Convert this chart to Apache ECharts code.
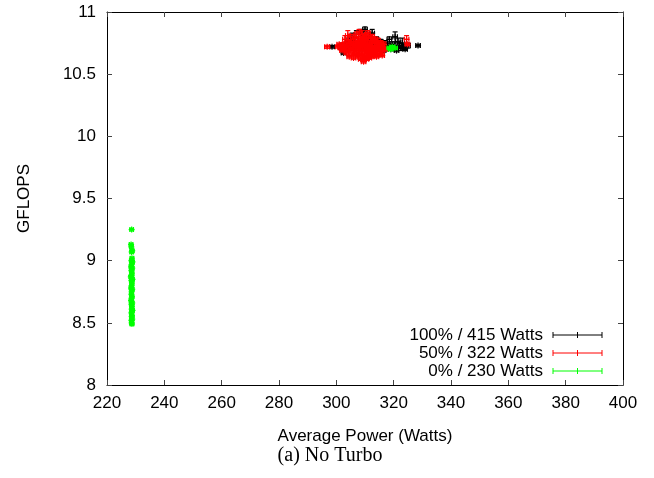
<!DOCTYPE html>
<html>
<head>
<meta charset="utf-8">
<script src="https://cdn.jsdelivr.net/npm/echarts@6/dist/echarts.min.js"></script>
<style>html,body{margin:0;padding:0;background:#fff}#c{width:654px;height:478px}</style>
</head>
<body>
<div id="c"></div>
<script>
// [power, gflops, powerErr, gflopsErr]
const blackPoints = [
[298.5,10.72,0.8,0.01],[302,10.73,0.8,0.02],[302.5,10.67,0.8,0.01],[303.5,10.70,0.8,0.01],[304,10.76,0.8,0.03],[305,10.74,0.8,0.02],
[305.5,10.80,0.8,0.03],[306,10.71,0.8,0.01],[306.5,10.77,0.8,0.02],[307,10.82,0.8,0.03],[307.5,10.73,0.8,0.02],
[308,10.75,0.8,0.02],[308.5,10.84,0.8,0.02],[309,10.70,0.8,0.01],[309.5,10.78,0.8,0.03],[310,10.86,0.8,0.02],
[310.5,10.74,0.8,0.02],[311,10.72,0.8,0.01],[311.5,10.80,0.8,0.03],[312,10.76,0.8,0.02],[312.5,10.83,0.8,0.03],
[313,10.71,0.8,0.01],[313.5,10.74,0.8,0.02],[314,10.78,0.8,0.02],[314.5,10.70,0.8,0.01],[315,10.73,0.8,0.02],
[315.5,10.76,0.8,0.02],[316,10.72,0.8,0.01],[316.5,10.69,0.8,0.01],[317,10.75,0.8,0.02],[317.5,10.71,0.8,0.02],
[318,10.73,0.8,0.02],[318.5,10.78,0.8,0.02],[319,10.70,0.8,0.01],[319.5,10.74,0.8,0.02],[320,10.72,0.8,0.01],
[320.5,10.80,0.8,0.04],[321,10.69,0.8,0.01],[321.5,10.76,0.8,0.03],[322,10.73,0.8,0.02],[322.5,10.71,0.8,0.02],
[323,10.75,0.8,0.04],[323.5,10.72,0.8,0.02],[324,10.70,0.8,0.01],[325,10.73,0.8,0.02],[328.5,10.73,0.8,0.01]
];
const redPoints = [
[296.8,10.72,0.9,0.012],[300.5,10.72,0.8,0.01],[301,10.74,0.8,0.01],[301.5,10.71,0.8,0.01],[302,10.73,0.8,0.02],
[302,10.69,0.8,0.01],[302.5,10.70,0.8,0.01],[303,10.74,0.8,0.02],[303,10.78,0.8,0.03],[303.5,10.72,0.8,0.01],
[303.5,10.67,0.8,0.01],[304,10.81,0.8,0.04],[304,10.69,0.8,0.01],[304.5,10.75,0.8,0.02],[304.5,10.64,0.8,0.01],
[305,10.71,0.8,0.01],[305,10.80,0.8,0.02],[305,10.76,0.8,0.02],[305.5,10.73,0.8,0.02],[305.5,10.67,0.8,0.01],
[306,10.76,0.8,0.02],[306,10.70,0.8,0.01],[306,10.63,0.8,0.01],[306.5,10.72,0.8,0.01],[306.5,10.79,0.8,0.03],
[306.5,10.66,0.8,0.01],[307,10.74,0.8,0.02],[307,10.68,0.8,0.01],[307,10.82,0.8,0.02],[307.5,10.71,0.8,0.01],
[307.5,10.77,0.8,0.02],[307.5,10.64,0.8,0.01],[307.5,10.74,0.8,0.02],[308,10.73,0.8,0.02],[308,10.66,0.8,0.01],
[308,10.84,0.8,0.02],[308.5,10.75,0.8,0.02],[308.5,10.70,0.8,0.01],[308.5,10.80,0.8,0.02],[308.5,10.62,0.8,0.01],
[308.5,10.77,0.8,0.02],[309,10.72,0.8,0.01],[309,10.67,0.8,0.01],[309,10.82,0.8,0.03],[309,10.75,0.8,0.02],
[309.5,10.74,0.8,0.02],[309.5,10.78,0.8,0.02],[309.5,10.63,0.8,0.01],[309.5,10.60,0.8,0.01],[310,10.70,0.8,0.01],
[310,10.76,0.8,0.02],[310,10.65,0.8,0.01],[310,10.79,0.8,0.02],[310.5,10.73,0.8,0.02],[310.5,10.81,0.8,0.02],
[310.5,10.62,0.8,0.01],[310.5,10.68,0.8,0.01],[311,10.71,0.8,0.01],[311,10.68,0.8,0.01],[311,10.77,0.8,0.02],
[311,10.83,0.8,0.02],[311.5,10.74,0.8,0.02],[311.5,10.66,0.8,0.01],[311.5,10.63,0.8,0.01],[311.5,10.70,0.8,0.01],
[312,10.72,0.8,0.01],[312,10.79,0.8,0.02],[312,10.69,0.8,0.01],[312,10.64,0.8,0.01],[312.5,10.75,0.8,0.02],
[312.5,10.67,0.8,0.01],[312.5,10.80,0.8,0.02],[312.5,10.72,0.8,0.01],[313,10.71,0.8,0.01],[313,10.77,0.8,0.02],
[313,10.65,0.8,0.01],[313.5,10.73,0.8,0.02],[313.5,10.68,0.8,0.01],[313.5,10.78,0.8,0.02],[313.5,10.70,0.8,0.01],
[314,10.70,0.8,0.01],[314,10.75,0.8,0.02],[314,10.64,0.8,0.01],[314.5,10.72,0.8,0.01],[314.5,10.66,0.8,0.01],
[314.5,10.77,0.8,0.02],[315,10.74,0.8,0.02],[315,10.69,0.8,0.01],[315,10.66,0.8,0.01],[315.5,10.71,0.8,0.01],
[315.5,10.75,0.8,0.02],[316,10.68,0.8,0.01],[316,10.73,0.8,0.02],[316,10.65,0.8,0.01],[316.5,10.70,0.8,0.01],
[316.5,10.74,0.8,0.02],[317,10.70,0.8,0.01],[324.5,10.78,0.8,0.03],[324.8,10.74,0.8,0.01]
];
const greenPoints = [
[318.5,10.71,0.8,0.01],[319.5,10.72,0.8,0.01],[320.5,10.71,0.8,0.01],[319,10.70,0.8,0.01],
[228.6,9.25,0.6,0.01],[228.4,9.13,0.6,0.01],[228.5,9.11,0.6,0.01],[228.8,9.08,0.6,0.01],[228.6,9.07,0.6,0.01],
[228.7,9.02,0.6,0.01],[228.5,9.00,0.6,0.01],[228.9,8.99,0.6,0.01],[228.6,8.97,0.6,0.01],[228.4,8.95,0.6,0.01],
[228.8,8.94,0.6,0.01],[228.5,8.92,0.6,0.01],[228.7,8.90,0.6,0.01],[228.6,8.88,0.6,0.01],[228.3,8.87,0.6,0.01],
[228.9,8.85,0.6,0.01],[228.5,8.84,0.6,0.01],[228.7,8.82,0.6,0.01],[228.6,8.80,0.6,0.01],[228.4,8.78,0.6,0.01],
[228.8,8.77,0.6,0.01],[228.6,8.75,0.6,0.01],[228.5,8.73,0.6,0.01],[228.7,8.71,0.6,0.01],[228.6,8.70,0.6,0.01],
[228.4,8.68,0.6,0.01],[228.8,8.66,0.6,0.01],[228.5,8.65,0.6,0.01],[228.7,8.63,0.6,0.01],[228.6,8.61,0.6,0.01],
[228.9,8.60,0.6,0.01],[228.5,8.58,0.6,0.01],[228.7,8.56,0.6,0.01],[228.6,8.55,0.6,0.01],[228.8,8.53,0.6,0.01],
[228.5,8.52,0.6,0.01],[228.6,8.50,0.6,0.01],[228.7,8.49,0.6,0.01]
];
const seriesNames = ['100% / 415 Watts', '50% / 322 Watts', '0% / 230 Watts'];
const seriesColors = ['#000000', '#ff0000', '#00ff00'];
const xTicks = {min: 220, max: 400, interval: 20};
const yTicks = {min: 8, max: 11, interval: 0.5};

const chart = echarts.init(document.getElementById('c'), null, {renderer: 'canvas'});
const FONT = '"Liberation Sans", Arial, Helvetica, sans-serif';

function makeRender(color) {
  return function (params, api) {
    const x = api.value(0), y = api.value(1), ex = api.value(2), ey = api.value(3);
    const c = api.coord([x, y]);
    const l = api.coord([x - ex, y]), r = api.coord([x + ex, y]);
    const t = api.coord([x, y + ey]), b = api.coord([x, y - ey]);
    const cap = 2.5, m = 3;
    const st = {stroke: color, lineWidth: 1.2, fill: null};
    const seg = (x1, y1, x2, y2) => ({type: 'line', shape: {x1, y1, x2, y2}, style: st});
    return {type: 'group', children: [
      seg(l[0], c[1], r[0], c[1]),
      seg(l[0], c[1] - cap, l[0], c[1] + cap),
      seg(r[0], c[1] - cap, r[0], c[1] + cap),
      seg(c[0], t[1], c[0], b[1]),
      seg(c[0] - cap, t[1], c[0] + cap, t[1]),
      seg(c[0] - cap, b[1], c[0] + cap, b[1]),
      seg(c[0] - m, c[1], c[0] + m, c[1]),
      seg(c[0], c[1] - m, c[0], c[1] + m)
    ]};
  };
}

const allData = [blackPoints, redPoints, greenPoints];
const series = allData.map((d, i) => ({
  type: 'custom', name: seriesNames[i], xAxisIndex: 0, yAxisIndex: 0,
  renderItem: makeRender(seriesColors[i]), data: d, z: 2 + i, clip: true,
  encode: {x: 0, y: 1}
}));

const legendGraphics = [];
seriesNames.forEach((n, i) => {
  const yc = 335 + i * 18;
  const col = seriesColors[i];
  legendGraphics.push({type: 'text', x: 543, y: yc, style: {text: n, textAlign: 'right', textVerticalAlign: 'middle', font: '17px ' + FONT, fill: '#000'}});
  const st = {stroke: col, lineWidth: 1};
  legendGraphics.push({type: 'line', shape: {x1: 553, y1: yc, x2: 602, y2: yc}, style: st});
  [553, 577.5, 602].forEach(xx => legendGraphics.push({type: 'line', shape: {x1: xx, y1: yc - 3, x2: xx, y2: yc + 3}, style: st}));
});
legendGraphics.push({type: 'text', x: 330, y: 456, style: {text: '(a) No Turbo', textAlign: 'center', textVerticalAlign: 'middle', font: '20px "Liberation Serif", "Times New Roman", serif', fill: '#000'}});

const axisCommon = {
  axisLine: {show: true, onZero: false, lineStyle: {color: '#000', width: 1}},
  axisTick: {show: true, inside: true, length: 5, lineStyle: {color: '#444'}},
  splitLine: {show: false}
};

chart.setOption({
  animation: false,
  backgroundColor: '#fff',
  grid: {left: 107, right: 31, top: 12, bottom: 93, containLabel: false},
  xAxis: [
    Object.assign({type: 'value', position: 'bottom', min: xTicks.min, max: xTicks.max, interval: xTicks.interval,
      name: 'Average Power (Watts)', nameLocation: 'middle', nameGap: 43,
      nameTextStyle: {fontFamily: FONT, fontSize: 17, color: '#000'},
      axisLabel: {fontFamily: FONT, fontSize: 17, color: '#000', margin: 10}}, axisCommon),
    Object.assign({type: 'value', position: 'top', min: xTicks.min, max: xTicks.max, interval: xTicks.interval,
      axisLabel: {show: false}}, axisCommon)
  ],
  yAxis: [
    Object.assign({type: 'value', position: 'left', min: yTicks.min, max: yTicks.max, interval: yTicks.interval,
      name: 'GFLOPS', nameLocation: 'middle', nameGap: 74, nameRotate: 90,
      nameTextStyle: {fontFamily: FONT, fontSize: 17, color: '#000'},
      axisLabel: {fontFamily: FONT, fontSize: 17, color: '#000', margin: 11}}, axisCommon),
    Object.assign({type: 'value', position: 'right', min: yTicks.min, max: yTicks.max, interval: yTicks.interval,
      axisLabel: {show: false}}, axisCommon)
  ],
  series: series,
  graphic: legendGraphics
});
</script>
</body>
</html>
